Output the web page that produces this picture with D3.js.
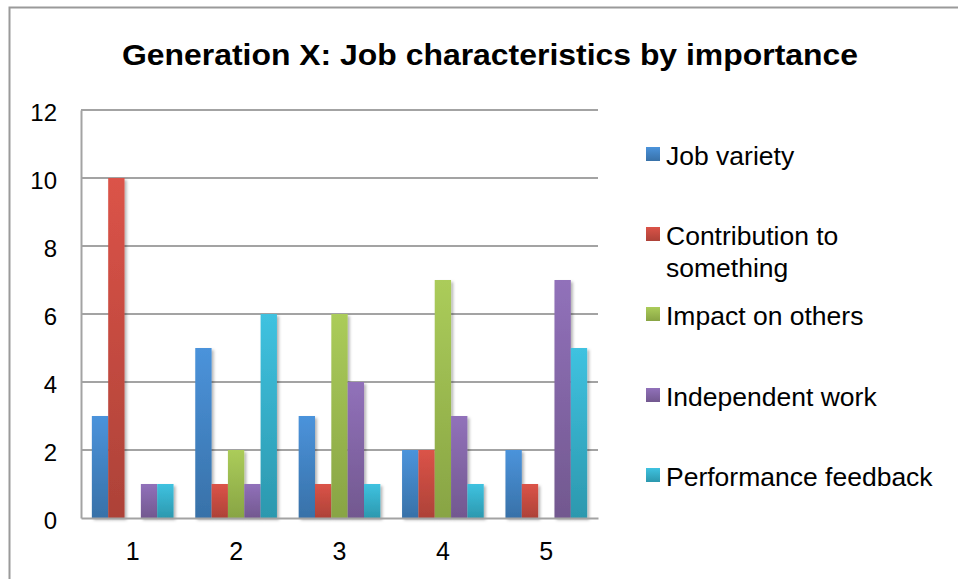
<!DOCTYPE html>
<html>
<head>
<meta charset="utf-8">
<script src="https://cdn.jsdelivr.net/npm/d3@7"></script>
<style>
  body { margin: 0; background: #fff; }
  text { font-family: "Liberation Sans", Arial, sans-serif; fill: #000; }
</style>
</head>
<body>
<div id="chart"></div>
<script>
var categories = ["1", "2", "3", "4", "5"];
var seriesNames = ["Job variety", "Contribution to something", "Impact on others", "Independent work", "Performance feedback"];
var jobVariety = [3, 5, 3, 2, 2];
var contribution = [10, 1, 1, 2, 1];
var impactOnOthers = [0, 2, 6, 7, 0];
var independentWork = [1, 1, 4, 3, 7];
var performanceFeedback = [1, 6, 1, 1, 5];
var yTicks = [0, 2, 4, 6, 8, 10, 12];

var seriesValues = [jobVariety, contribution, impactOnOthers, independentWork, performanceFeedback];
var colors = [
  ["#4b93db", "#3871a8"],
  ["#db5348", "#ad4238"],
  ["#abcc5a", "#88a444"],
  ["#9171ba", "#72588f"],
  ["#3fc2e0", "#2c98ae"]
];

var W = 958, H = 579;
var margin = { top: 110, left: 81 };
var width = 598 - 81, height = 518 - 110;

var svg = d3.select("#chart").append("svg")
    .attr("width", W)
    .attr("height", H);

var defs = svg.append("defs");
colors.forEach(function(c, i) {
  var g = defs.append("linearGradient")
      .attr("id", "grad" + i)
      .attr("x1", 0).attr("y1", 0).attr("x2", 0).attr("y2", 1);
  g.append("stop").attr("offset", "0%").attr("stop-color", c[0]);
  g.append("stop").attr("offset", "100%").attr("stop-color", c[1]);
});
var shadow = defs.append("filter").attr("id", "shadow")
    .attr("x", "-30%").attr("y", "-10%").attr("width", "180%").attr("height", "130%");
shadow.append("feDropShadow")
    .attr("dx", 2).attr("dy", 2).attr("stdDeviation", 1.8)
    .attr("flood-color", "#000").attr("flood-opacity", 0.3);

// outer frame
svg.append("path")
    .attr("d", "M9.5," + H + "V7.5H" + W)
    .attr("fill", "none")
    .attr("stroke", "#9a9a9a")
    .attr("stroke-width", 2);

svg.append("text")
    .attr("x", 490)
    .attr("y", 65)
    .attr("text-anchor", "middle")
    .attr("textLength", 736)
    .attr("lengthAdjust", "spacingAndGlyphs")
    .style("font-size", "30px")
    .style("font-weight", "bold")
    .text("Generation X: Job characteristics by importance");

var g = svg.append("g")
    .attr("transform", "translate(" + margin.left + "," + margin.top + ")");

var x0 = d3.scaleBand().domain(categories).range([0, width]).paddingInner(0.21).paddingOuter(0.105);
var x1 = d3.scaleBand().domain(d3.range(seriesNames.length)).range([0, x0.bandwidth()]);
var y = d3.scaleLinear().domain([0, 12]).range([height, 0]);

// gridlines
g.selectAll(".grid")
    .data(yTicks.slice(1))
    .enter().append("line")
    .attr("x1", 0).attr("x2", width)
    .attr("y1", function(d) { return y(d); })
    .attr("y2", function(d) { return y(d); })
    .attr("stroke", "#a3a3a3")
    .attr("stroke-width", 2);

// y axis
var yAxis = d3.axisLeft(y).tickValues(yTicks).tickSize(0).tickPadding(24);
var ya = g.append("g").call(yAxis);
ya.select(".domain").attr("stroke", "#a3a3a3").attr("stroke-width", 2);
ya.selectAll("text").style("font-size", "24px").attr("dy", "0.42em");

// bars
var groups = g.selectAll(".cat")
    .data(categories)
    .enter().append("g")
    .attr("transform", function(d) { return "translate(" + x0(d) + ",0)"; });

groups.selectAll("rect")
    .data(function(d, ci) {
      return seriesValues.map(function(vals, si) { return { s: si, v: vals[ci] }; });
    })
    .enter().filter(function(d) { return d.v > 0; })
    .append("rect")
    .attr("x", function(d) { return x1(d.s); })
    .attr("width", x1.bandwidth())
    .attr("y", function(d) { return y(d.v); })
    .attr("height", function(d) { return height - y(d.v); })
    .attr("fill", function(d) { return "url(#grad" + d.s + ")"; })
    .attr("filter", "url(#shadow)");

// x axis
var xAxis = d3.axisBottom(x0).tickSize(0).tickPadding(24);
var xa = g.append("g").attr("transform", "translate(0," + height + ")").call(xAxis);
xa.select(".domain").attr("stroke", "#a3a3a3").attr("stroke-width", 2);
xa.selectAll("text").style("font-size", "25px");

// legend
var legendY = [[158], [238, 270], [318], [399], [479]];
var legendLines = [["Job variety"], ["Contribution to", "something"], ["Impact on others"], ["Independent work"], ["Performance feedback"]];
var leg = svg.append("g");
seriesNames.forEach(function(name, i) {
  leg.append("rect")
      .attr("x", 646).attr("y", legendY[i][0] - 11)
      .attr("width", 14).attr("height", 14)
      .attr("fill", "url(#grad" + i + ")");
  legendLines[i].forEach(function(line, j) {
    var t = leg.append("text")
        .attr("x", 666)
        .attr("y", legendY[i][j] + 7)
        .style("font-size", "25px")
        .text(line);
    // reference text is slightly wider than Liberation Sans
    t.attr("textLength", t.node().getComputedTextLength() * 1.06)
      .attr("lengthAdjust", "spacingAndGlyphs");
  });
});
</script>
</body>
</html>
